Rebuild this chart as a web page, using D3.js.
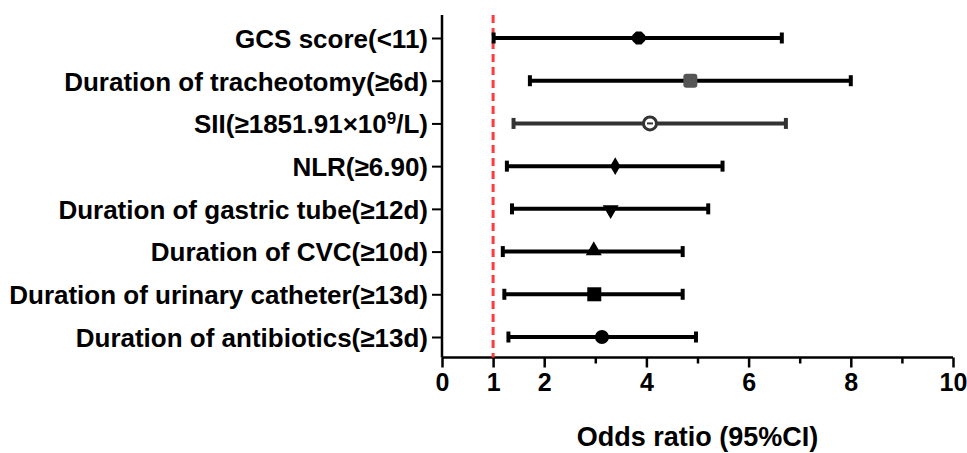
<!DOCTYPE html>
<html><head><meta charset="utf-8">
<script src="https://cdn.jsdelivr.net/npm/d3@7"></script>
<style>body{margin:0;background:#fff}svg{display:block}text{font-family:"Liberation Sans",Arial,sans-serif;font-weight:bold;fill:#000}</style>
</head><body><svg id="c" width="967" height="453"></svg>
<script>
const categories = [
  "GCS score(<11)",
  "Duration of tracheotomy(≥6d)",
  "SII(≥1851.91×10⁹/L)",
  "NLR(≥6.90)",
  "Duration of gastric tube(≥12d)",
  "Duration of CVC(≥10d)",
  "Duration of urinary catheter(≥13d)",
  "Duration of antibiotics(≥13d)"
];
const orValues = [3.85, 4.86, 4.07, 3.39, 3.30, 2.97, 2.98, 3.13];
const lowerCI  = [1.01, 1.72, 1.40, 1.27, 1.37, 1.19, 1.22, 1.30];
const upperCI  = [6.65, 8.00, 6.73, 5.49, 5.21, 4.71, 4.71, 4.97];
const markers  = ["hexagon","roundsquare","circleopen","diamond","triangledown","triangle","square","circle"];
const majorTicks = [0,1,2,4,6,8,10];
const minorTicks = [3,5,7,9];
const refLine = 1;

const svg = d3.select("#c");
const x = d3.scaleLinear().domain([0,10]).range([442,953]);
const y = d3.scalePoint().domain(categories).range([38,337]);
const axisY = 357.5, axisTop = 15;

// x axis
const gx = svg.append("g").attr("transform",`translate(0,${axisY})`);
gx.call(d3.axisBottom(x).tickValues(majorTicks).tickSize(10).tickPadding(6).tickFormat(d3.format("d")));
gx.select(".domain").attr("d",`M${x(0)},0H${x(10)}`).attr("stroke","#000").attr("stroke-width",2.5);
gx.selectAll(".tick line").attr("stroke","#000").attr("stroke-width",2.5);
gx.selectAll(".tick text").style("font-size","25px").attr("fill","#000");
const gxm = svg.append("g").attr("transform",`translate(0,${axisY})`);
gxm.call(d3.axisBottom(x).tickValues(minorTicks).tickSize(6).tickFormat(""));
gxm.select(".domain").remove();
gxm.selectAll(".tick line").attr("stroke","#000").attr("stroke-width",2.5);

// y axis
const gy = svg.append("g").attr("transform",`translate(${x(0)},0)`);
gy.call(d3.axisLeft(y).tickSize(10).tickPadding(4));
gy.select(".domain").attr("d",`M0,${axisTop}V${axisY}`).attr("stroke","#000").attr("stroke-width",2.5);
gy.selectAll(".tick line").attr("stroke","#000").attr("stroke-width",2);
gy.selectAll(".tick text").style("font-size","26px").attr("fill","#000").attr("dy","0.36em")
  .each(function(d){
    if(d.includes("⁹")){
      const t = d3.select(this), parts = d.split("⁹");
      t.text(null);
      t.append("tspan").text(parts[0]);
      t.append("tspan").text("9").attr("dy",-9).style("font-size","17px");
      t.append("tspan").text(parts[1]).attr("dy",9);
    }
  });

// reference line
svg.append("line").attr("x1",x(refLine)).attr("x2",x(refLine)).attr("y1",axisTop).attr("y2",axisY)
  .attr("stroke","#ff3b3b").attr("stroke-width",3).attr("stroke-dasharray","8,5");

const data = categories.map((c,i)=>({c,or:orValues[i],lo:lowerCI[i],hi:upperCI[i],m:markers[i]}));
const rowColor = d => d.m==="circleopen" ? "#333" : "#000";

const rows = svg.append("g").selectAll("g").data(data).join("g").attr("transform",d=>`translate(0,${y(d.c)})`);
rows.append("line").attr("x1",d=>x(d.lo)).attr("x2",d=>x(d.hi)).attr("stroke",rowColor).attr("stroke-width",4);
rows.append("line").attr("x1",d=>x(d.lo)).attr("x2",d=>x(d.lo)).attr("y1",-5.5).attr("y2",5.5).attr("stroke",rowColor).attr("stroke-width",4);
rows.append("line").attr("x1",d=>x(d.hi)).attr("x2",d=>x(d.hi)).attr("y1",-5.5).attr("y2",5.5).attr("stroke",rowColor).attr("stroke-width",4);

rows.each(function(d){
  const g = d3.select(this), cx = x(d.or);
  const sym = (type,size) => g.append("path").attr("transform",`translate(${cx},0)`).attr("d",d3.symbol().type(type).size(size)());
  switch(d.m){
    case "hexagon":
      g.append("path").attr("transform",`translate(${cx},0)`)
        .attr("d",d3.line()(d3.range(8).map(k=>{const a=Math.PI/8+k*Math.PI/4;return [7*Math.cos(a),7*Math.sin(a)];}))+"Z").attr("fill","#000");
      break;
    case "roundsquare":
      g.append("rect").attr("x",cx-7).attr("y",-7).attr("width",14).attr("height",14).attr("rx",3).attr("fill","#555");
      break;
    case "circleopen":
      g.append("circle").attr("cx",cx).attr("cy",0).attr("r",6.5).attr("fill","#fff").attr("stroke","#333").attr("stroke-width",3);
      g.append("line").attr("x1",cx-3).attr("x2",cx+3).attr("stroke","#333").attr("stroke-width",2);
      break;
    case "diamond": sym(d3.symbolDiamond,90).attr("fill","#000"); break;
    case "triangledown": sym(d3.symbolTriangle,110).attr("fill","#000").attr("transform",`translate(${cx},1) rotate(180)`); break;
    case "triangle": sym(d3.symbolTriangle,110).attr("fill","#000").attr("transform",`translate(${cx},-1)`); break;
    case "square": g.append("rect").attr("x",cx-7).attr("y",-7).attr("width",14).attr("height",14).attr("fill","#000"); break;
    case "circle": g.append("circle").attr("cx",cx).attr("cy",0).attr("r",7).attr("fill","#000"); break;
  }
});

svg.append("text").attr("x",(x(0)+x(10))/2).attr("y",446).attr("text-anchor","middle").style("font-size","27px").text("Odds ratio (95%CI)");
</script></body></html>
